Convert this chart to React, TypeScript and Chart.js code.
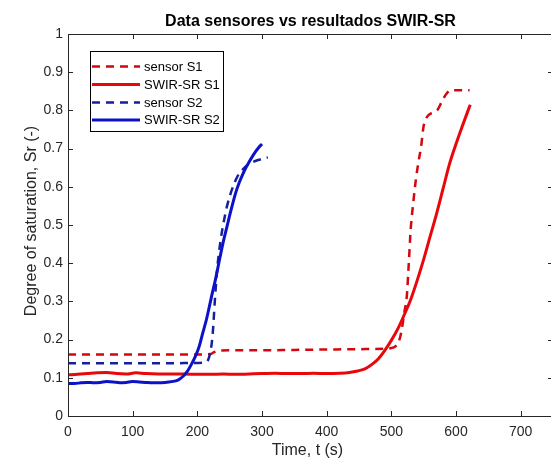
import React, { useEffect, useRef } from "react";
import { Chart, registerables } from "chart.js";

Chart.register(...registerables);

const FONT = "'Liberation Sans', Arial, Helvetica, sans-serif";

const xTicks = [0, 100, 200, 300, 400, 500, 600, 700];
const yTicks = [0, 0.1, 0.2, 0.3, 0.4, 0.5, 0.6, 0.7, 0.8, 0.9, 1];

const titleText = "Data sensores vs resultados SWIR-SR";
const xTitle = "Time, t (s)";
const yTitle = "Degree of saturation, Sr (-)";

const seriesNames = ["sensor S1", "SWIR-SR S1", "sensor S2", "SWIR-SR S2"];

// sensor S1 (red dashed)
const sensorS1_t = [0, 50, 100, 150, 200, 220, 226, 232, 260, 300, 350, 400, 450, 490, 500, 506, 511, 516, 520, 524, 527, 530, 534, 538, 542, 546, 550, 556, 565, 572, 578, 585, 592, 606, 621];
const sensorS1_sr = [0.161, 0.161, 0.161, 0.161, 0.161, 0.162, 0.167, 0.171, 0.172, 0.172, 0.173, 0.174, 0.175, 0.176, 0.178, 0.182, 0.192, 0.225, 0.27, 0.315, 0.4, 0.49, 0.56, 0.62, 0.665, 0.705, 0.76, 0.785, 0.795, 0.803, 0.823, 0.843, 0.853, 0.853, 0.853];

// SWIR-SR S1 (red solid)
const swirS1_t = [0, 15, 30, 45, 60, 75, 90, 105, 120, 140, 160, 180, 200, 220, 240, 260, 280, 300, 320, 340, 360, 380, 400, 420, 435, 448, 460, 470, 480, 490, 500, 510, 520, 530, 540, 550, 560, 570, 580, 590, 600, 610, 622];
const swirS1_sr = [0.108, 0.109, 0.111, 0.113, 0.114, 0.111, 0.11, 0.113, 0.111, 0.11, 0.11, 0.11, 0.109, 0.109, 0.11, 0.109, 0.11, 0.111, 0.112, 0.111, 0.111, 0.112, 0.111, 0.112, 0.114, 0.118, 0.124, 0.135, 0.15, 0.172, 0.198, 0.228, 0.265, 0.305, 0.355, 0.41, 0.47, 0.53, 0.595, 0.66, 0.712, 0.76, 0.815];

// sensor S2 (blue dashed)
const sensorS2_t = [0, 50, 100, 150, 200, 212, 217, 221, 224, 227, 231, 236, 241, 246, 254, 262, 270, 278, 286, 294, 302, 309];
const sensorS2_sr = [0.138, 0.138, 0.138, 0.138, 0.139, 0.14, 0.148, 0.175, 0.22, 0.3, 0.39, 0.46, 0.51, 0.55, 0.595, 0.627, 0.645, 0.658, 0.665, 0.67, 0.674, 0.677];

// SWIR-SR S2 (blue solid)
const swirS2_t = [0, 10, 20, 30, 40, 50, 60, 70, 80, 90, 100, 110, 120, 130, 140, 150, 160, 170, 178, 185, 192, 198, 203, 208, 214, 218, 222, 228, 235, 240, 245, 250, 255, 260, 265, 270, 275, 280, 285, 290, 295, 300];
const swirS2_sr = [0.085, 0.085, 0.087, 0.088, 0.087, 0.088, 0.09, 0.089, 0.087, 0.088, 0.09, 0.089, 0.088, 0.087, 0.087, 0.088, 0.09, 0.094, 0.104, 0.118, 0.139, 0.16, 0.183, 0.215, 0.252, 0.282, 0.313, 0.357, 0.415, 0.455, 0.49, 0.525, 0.558, 0.588, 0.612, 0.632, 0.65, 0.665, 0.679, 0.692, 0.703, 0.712];

const RED_SOLID = "#e8080c";
const RED_DASH = "#d4060e";
const BLUE_SOLID = "#0b12c8";
const BLUE_DASH = "#16209e";
const AXIS = "#262626";

function toPts(t: number[], v: number[]) {
  return t.map((x, i) => ({ x, y: v[i] }));
}

const framePlugin = {
  id: "matlabFrame",
  afterDraw(chart: any) {
    const { ctx, chartArea } = chart;
    const { left, right, top, bottom } = chartArea;
    const xs = chart.scales.x;
    const ys = chart.scales.y;
    ctx.save();
    ctx.strokeStyle = AXIS;
    ctx.lineWidth = 1;
    ctx.setLineDash([]);
    ctx.strokeRect(Math.round(left) + 0.5, Math.round(top) + 0.5, Math.round(right - left), Math.round(bottom - top));
    const tl = 5;
    ctx.beginPath();
    xTicks.forEach((v) => {
      const px = Math.round(xs.getPixelForValue(v)) + 0.5;
      ctx.moveTo(px, bottom);
      ctx.lineTo(px, bottom - tl);
      ctx.moveTo(px, top);
      ctx.lineTo(px, top + tl);
    });
    yTicks.forEach((v) => {
      const py = Math.round(ys.getPixelForValue(v)) + 0.5;
      ctx.moveTo(left, py);
      ctx.lineTo(left + tl, py);
      ctx.moveTo(right, py);
      ctx.lineTo(right - tl, py);
    });
    ctx.stroke();

    ctx.fillStyle = "#000";
    ctx.textAlign = "center";
    ctx.textBaseline = "middle";
    ctx.font = `bold 16px ${FONT}`;
    ctx.fillText(titleText, (left + right) / 2, 22);
    ctx.fillStyle = AXIS;
    ctx.font = `16px ${FONT}`;
    ctx.fillText(xTitle, (left + right) / 2 - 3, 451);
    ctx.save();
    ctx.translate(32, (top + bottom) / 2 - 4);
    ctx.rotate(-Math.PI / 2);
    ctx.fillText(yTitle, 0, 0);
    ctx.restore();

    const bx = 90.5, by = 51.5, bw = 133, bh = 80;
    ctx.fillStyle = "#fff";
    ctx.fillRect(bx, by, bw, bh);
    ctx.strokeStyle = "#000";
    ctx.lineWidth = 1;
    ctx.strokeRect(bx, by, bw, bh);
    const rows = [66.5, 84.5, 102.5, 120];
    chart.data.datasets.forEach((ds: any, i: number) => {
      const y = rows[i];
      ctx.beginPath();
      ctx.strokeStyle = ds.borderColor;
      ctx.lineWidth = ds.borderWidth;
      ctx.setLineDash(ds.borderDash || []);
      ctx.moveTo(92, y);
      ctx.lineTo(140, y);
      ctx.stroke();
      ctx.setLineDash([]);
      ctx.fillStyle = "#000";
      ctx.textAlign = "left";
      ctx.textBaseline = "middle";
      ctx.font = `13px ${FONT}`;
      ctx.fillText(ds.label, 144, y + 0.5);
    });
    ctx.restore();
  },
};

export default function App() {
  const ref = useRef<HTMLCanvasElement>(null);
  useEffect(() => {
    const canvas = ref.current!;
    const common = {
      pointRadius: 0,
      pointHoverRadius: 0,
      fill: false,
      cubicInterpolationMode: "monotone" as const,
      borderCapStyle: "butt" as const,
    };
    const chart = new Chart(canvas, {
      type: "line",
      data: {
        datasets: [
          { ...common, label: seriesNames[0], data: toPts(sensorS1_t, sensorS1_sr), borderColor: RED_DASH, borderWidth: 2.5, borderDash: [8, 6], order: 3 },
          { ...common, label: seriesNames[1], data: toPts(swirS1_t, swirS1_sr), borderColor: RED_SOLID, borderWidth: 3, order: 2 },
          { ...common, label: seriesNames[2], data: toPts(sensorS2_t, sensorS2_sr), borderColor: BLUE_DASH, borderWidth: 2.5, borderDash: [8, 6], order: 1 },
          { ...common, label: seriesNames[3], data: toPts(swirS2_t, swirS2_sr), borderColor: BLUE_SOLID, borderWidth: 3, order: 0 },
        ],
      },
      options: {
        animation: false,
        responsive: false,
        maintainAspectRatio: false,
        events: [],
        layout: { padding: { top: 34, right: 47, left: 0, bottom: 0 } },
        plugins: {
          legend: { display: false },
          title: { display: false },
          tooltip: { enabled: false },
        },
        scales: {
          x: {
            type: "linear",
            min: 0,
            max: 750,
            afterFit: (s: any) => { s.height = 46; },
            grid: { display: false, drawTicks: false },
            border: { display: false },
            ticks: {
              stepSize: 100,
              includeBounds: false,
              autoSkip: false,
              maxRotation: 0,
              padding: 8,
              color: AXIS,
              font: { family: FONT, size: 14 },
            },
          },
          y: {
            type: "linear",
            min: 0,
            max: 1,
            afterFit: (s: any) => { s.width = 68; },
            grid: { display: false, drawTicks: false },
            border: { display: false },
            ticks: {
              stepSize: 0.1,
              autoSkip: false,
              padding: 5,
              color: AXIS,
              font: { family: FONT, size: 14 },
              callback: (v: any) => String(Math.round(Number(v) * 10) / 10),
            },
          },
        },
      },
      plugins: [framePlugin],
    });
    return () => chart.destroy();
  }, []);
  return (
    <div style={{ position: "fixed", left: 0, top: 0, width: 551, height: 462, overflow: "hidden", background: "#fff" }}>
      <canvas ref={ref} width={600} height={462} style={{ display: "block" }} />
    </div>
  );
}
